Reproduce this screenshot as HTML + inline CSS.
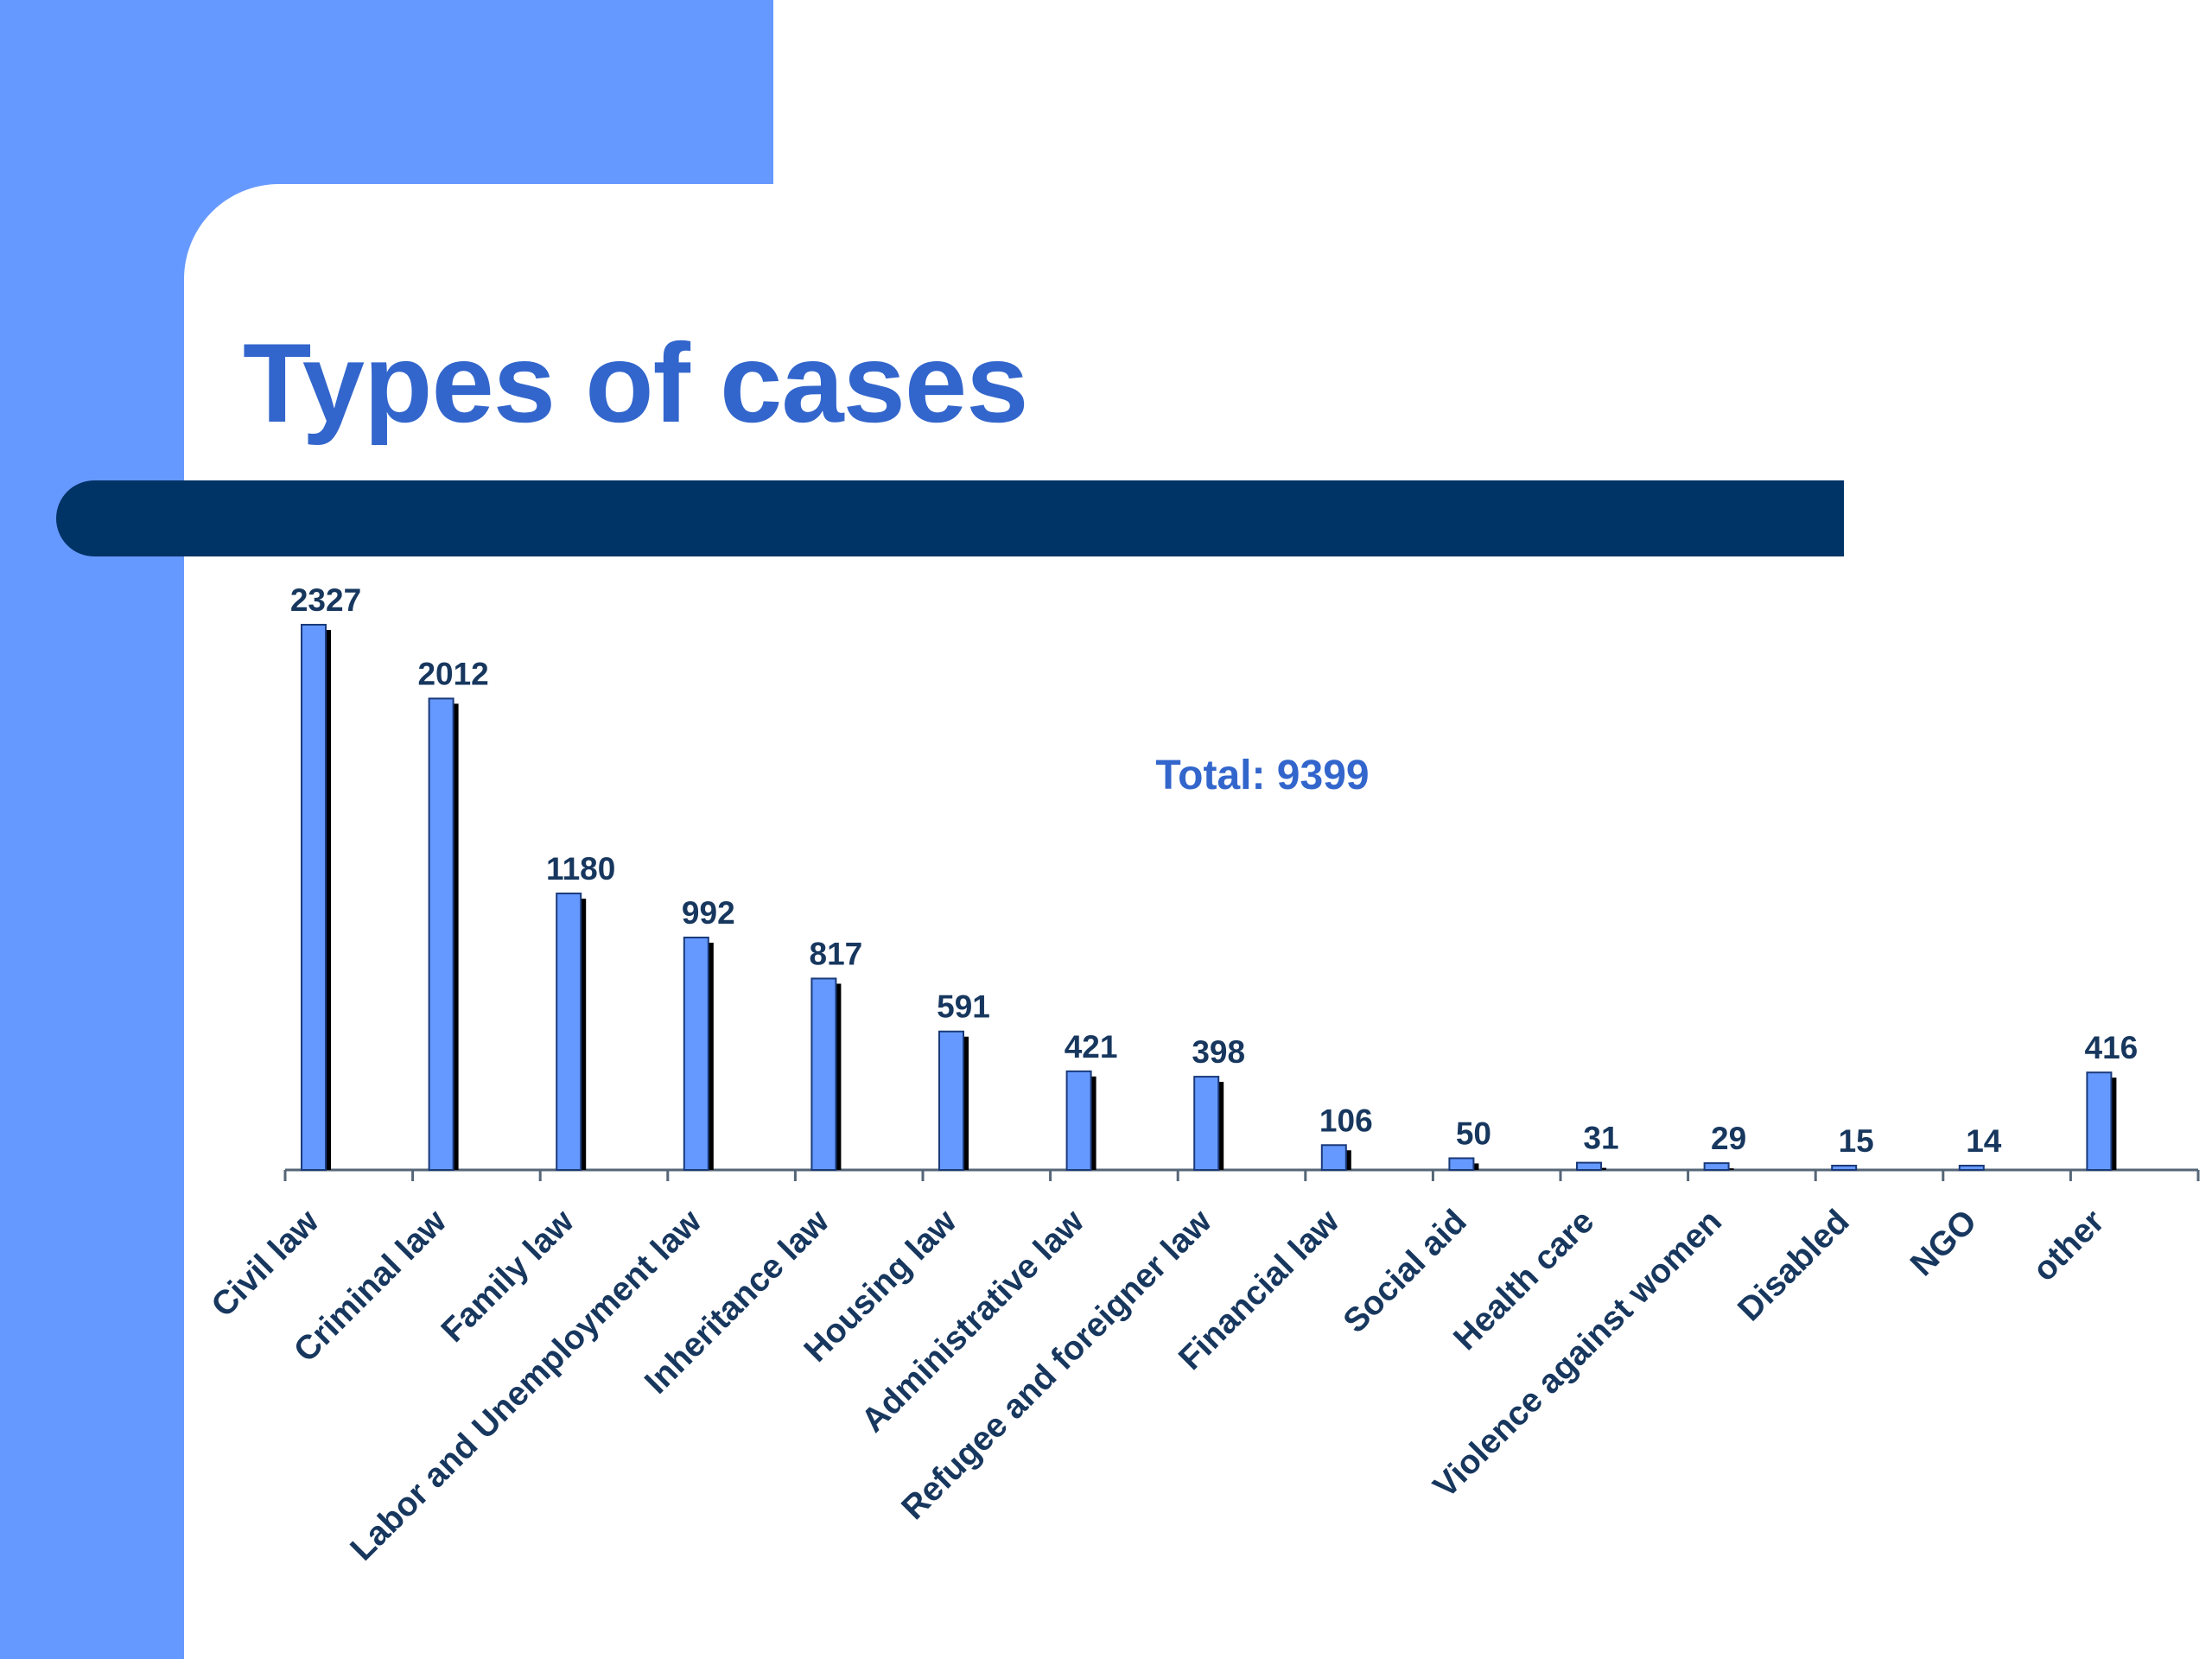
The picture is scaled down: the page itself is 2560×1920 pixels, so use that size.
<!DOCTYPE html>
<html><head><meta charset="utf-8"><style>
html,body{margin:0;padding:0;}
body{width:2560px;height:1920px;position:relative;overflow:hidden;background:#6699ff;font-family:"Liberation Sans",Arial,sans-serif;}
#white{position:absolute;left:213px;top:213px;width:2347px;height:1707px;background:#fff;border-top-left-radius:110px;}
#topwhite{position:absolute;left:895px;top:0;width:1665px;height:213px;background:#fff;}
#bar{position:absolute;left:65px;top:556px;width:2069px;height:88px;background:#003366;border-radius:44px 0 0 44px;}
#title{position:absolute;left:281px;top:368px;font-size:130px;font-weight:bold;color:#3366cc;letter-spacing:-1px;white-space:nowrap;}
svg{position:absolute;left:0;top:0;}
</style></head><body>
<div id="topwhite"></div>
<div id="white"></div>
<div id="bar"></div>
<div id="title">Types of cases</div>
<svg id="chart" width="2560" height="1920">
<text x="1461" y="913" font-size="48" font-weight="bold" fill="#3366cc" text-anchor="middle" font-family="Liberation Sans, Arial, sans-serif">Total: 9399</text>
</svg>
<script>
const categories=["Civil law","Criminal law","Family law","Labor and Unemployment law","Inheritance law","Housing law","Administrative law","Refugee and foreigner law","Financial law","Social aid","Health care","Violence against women","Disabled","NGO","other"];
const values=[2327,2012,1180,992,817,591,421,398,106,50,31,29,15,14,416];
const valueLabels=["2327","2012","1180","992","817","591","421","398","106","50","31","29","15","14","416"];
const svg=document.getElementById('chart');
const NS='http://www.w3.org/2000/svg';
const x0=330,x1=2544,axisY=1354,scaleY=631/2327;
const step=(x1-x0)/categories.length;
function xPos(i){return x0+i*step;}
function yPos(v){return axisY-Math.max(v*scaleY,5);}
function mk(tag,attrs){const e=document.createElementNS(NS,tag);for(const k in attrs)e.setAttribute(k,attrs[k]);svg.appendChild(e);return e;}
const axis=mk('line',{x1:x0,y1:axisY,x2:x1,y2:axisY,stroke:'#556677','stroke-width':3});


for(let i=0;i<=categories.length;i++){
  const t=mk('line',{x1:xPos(i),y1:axisY,x2:xPos(i),y2:axisY+13,stroke:'#556677','stroke-width':3});
  
  
}
values.forEach((v,i)=>{
  const bx=xPos(i)+19,bw=28,top=yPos(v);
  const sh=mk('rect',{x:bx+6,y:top+6,width:bw,height:axisY-top-6,fill:'#000'});
  
  
  const r=mk('rect',{x:bx,y:top,width:bw,height:axisY-top,fill:'#6699ff',stroke:'#1a3a7a','stroke-width':2});
  
  
  const lb=mk('text',{x:bx+bw/2+14,y:top-16,'font-size':37,'font-weight':'bold',fill:'#17375e','text-anchor':'middle','font-family':'Liberation Sans, Arial, sans-serif'});
  lb.textContent=valueLabels[i];
  
  
  const ax=bx+bw/2+8,ay=axisY+62;
  const cl=mk('text',{x:ax,y:ay,'font-size':39,'font-weight':'bold',fill:'#17375e','text-anchor':'end','font-family':'Liberation Sans, Arial, sans-serif',transform:'rotate(-45 '+ax+' '+ay+')'});
  cl.textContent=categories[i];
  
  
});
</script>
</body></html>
